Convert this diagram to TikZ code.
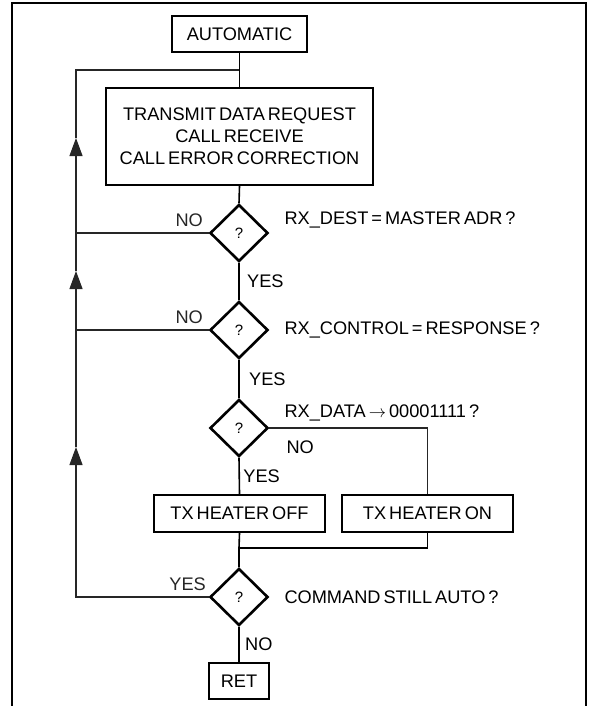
\documentclass[tikz,border=0pt]{standalone}
\usepackage{fontspec}
\setmainfont{Liberation Sans}[WordSpace=0.6]
\usetikzlibrary{shapes.geometric,arrows.meta}

\tikzset{
  box/.style={draw, line width=2.4pt, inner sep=0pt, align=center},
  query/.style={draw, diamond, line width=2.6pt, minimum width=58pt, minimum height=57pt,
    inner sep=0pt, font=\fontsize{15}{17}\selectfont},
  flow/.style={line width=1.6pt},
  back/.style={line width=1.1pt, black!85},
  up/.style={-{Triangle[width=13pt,length=18pt]}},
  lbl/.style={inner sep=0pt, anchor=west},
}

\begin{document}
\begin{tikzpicture}[x=1pt, y=-1pt, font=\fontsize{18.2}{22}\selectfont]
        \useasboundingbox (0,0) rectangle (595,706);

        % Outer frame
        \draw[line width=2.2pt] (12,706) -- (12,3) -- (586,3) -- (586,706);

        % Boxes
        \node[box, minimum width=135pt, minimum height=36pt] (auto) at (239.5,34) {AUTOMATIC};
        \node[box, minimum width=267pt, minimum height=97pt] (xmit) at (239.5,136.5)
            {TRANSMIT DATA REQUEST\\CALL RECEIVE\\CALL ERROR CORRECTION};
        \node[box, minimum width=171pt, minimum height=37pt] (hoff) at (239.5,513.5) {TX HEATER OFF};
        \node[box, minimum width=171pt, minimum height=37pt] (hon)  at (427.5,513.5) {TX HEATER ON};
        \node[box, minimum width=60pt,  minimum height=36pt] (ret)  at (239,681) {RET};

        % Decisions
        \node[query] (dest)  at (239,233) {?};
        \node[query] (ctrl)  at (239,330) {?};
        \node[query] (data)  at (239,428) {?};
        \node[query] (still) at (239,597) {?};

        % Questions
        \node[lbl] (qdest)  at ([xshift=15pt, yshift=13pt]dest.east)  {RX\_DEST = MASTER ADR ?};
        \node[lbl] (qctrl)  at ([xshift=15pt]ctrl.east)               {RX\_CONTROL = RESPONSE ?};
        \node[lbl] (qdata)  at ([xshift=15pt, yshift=15pt]data.east)  {RX\_DATA $\rightarrow$ 00001111 ?};
        \node[lbl] (qstill) at ([xshift=15pt]still.east)              {COMMAND STILL AUTO ?};

        % Anchor points of the loop back
        \coordinate (top)  at (239,70);
        \coordinate (tl)   at (76,70);
        \coordinate (bl)   at (76,597);
        \coordinate (a1)   at (76,138);
        \coordinate (a2)   at (76,271);
        \coordinate (a3)   at (76,447);
        \coordinate (join) at (239,548);

        % Main flow
        \draw[flow] (auto.south) -- (xmit.north);
        \draw[flow] (xmit.south) -- (dest.north);
        \draw[flow] (dest.south) -- node[right, xshift=4pt] (ydest) {YES} (ctrl.north);
        \draw[flow] (ctrl.south) -- node[right, xshift=6pt] (yctrl) {YES} (data.north);
        \draw[flow] (data.south) -- node[right] (ydata) {YES} (hoff.north);
        \draw[flow] (hoff.south) -- (join) -- (still.north);
        \draw[flow] (still.south) -- node[right, xshift=2pt] (nstill) {NO} (ret.north);

        % Heater on branch
        \draw[back] (data.east) -| (hon.north);
        \node[lbl] (ndata) at ([xshift=17pt, yshift=-19pt]data.east) {NO};
        \draw[flow] (hon.south) |- (join);

        % Loop back
        \draw[back, up] (still.west) node[above left, yshift=2pt, xshift=1pt] (ystill) {YES} -- (bl) -- (a3);
        \draw[back, up] (a3) -- (a2);
        \draw[back, up] (a2) -- (a1);
        \draw[back] (a1) -- (tl) -- (top);
        \draw[back] (dest.west) node[above left, yshift=2pt, xshift=-2pt] (ndest) {NO} -- (dest.west -| tl);
        \draw[back] (ctrl.west) node[above left, yshift=2pt, xshift=-2pt] (nctrl) {NO} -- (ctrl.west -| tl);
    \end{tikzpicture}
\end{document}
